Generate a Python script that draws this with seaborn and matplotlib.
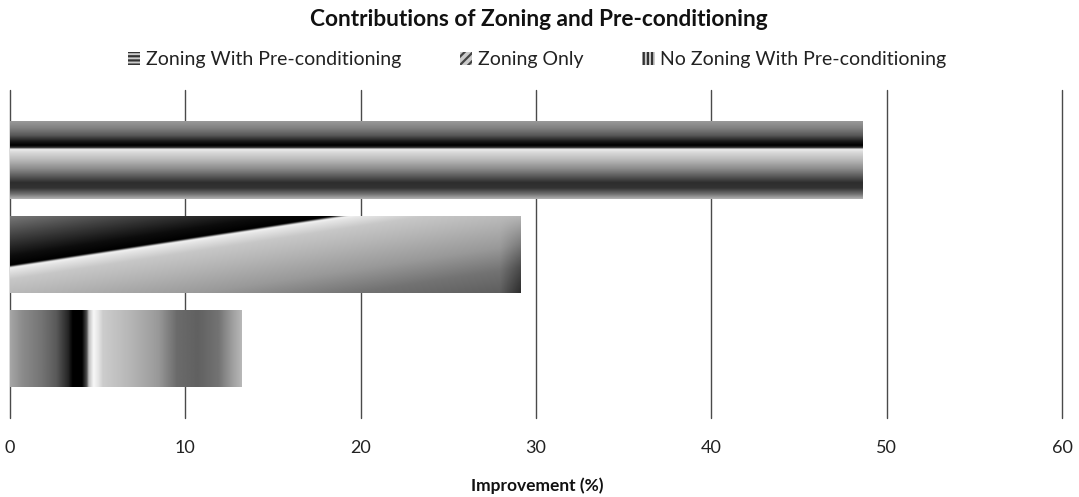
import numpy as np
import pandas as pd
import matplotlib
matplotlib.use("Agg")
import matplotlib.pyplot as plt
import seaborn as sns
from matplotlib.patches import Patch

# Data
series = ["Zoning With Pre-conditioning", "Zoning Only", "No Zoning With Pre-conditioning"]
improvement = [48.6, 29.1, 13.2]
x_ticks = [0, 10, 20, 30, 40, 50, 60]

df = pd.DataFrame({"series": series, "improvement": improvement})

sns.set_theme(style="white")
plt.rcParams["font.family"] = ["Lato", "DejaVu Sans"]
plt.rcParams["hatch.linewidth"] = 1.6

W, H = 1079, 497
fig = plt.figure(figsize=(W / 100, H / 100), dpi=100)
ax = fig.add_axes([10 / W, (H - 418) / H, 1052 / W, 328 / H])

sns.barplot(data=df, y="series", x="improvement", hue="series", order=series,
            hue_order=series, dodge=False, width=0.82, orient="h",
            palette=["#888888"] * 3, legend=False, ax=ax, zorder=2)


# Shading profiles for each bar (grey level, 0 = black, 1 = white)
def band_profile(n):
    pos = [0, .09, .18, .26, .31, .34, .36, .40, .5, .61, .71, .79, .86, .94, 1]
    val = [.6, .5, .35, .1, 0, .2, .93, .85, .72, .55, .35, .18, .2, .45, .7]
    t = np.linspace(0, 1, n)
    return np.tile(np.interp(t, pos, val)[:, None], (1, 200))


def diagonal_profile(n):
    u = np.linspace(0, 1, 400)[None, :]
    v = np.linspace(0, 1, n)[:, None]
    d = v + u - 0.675
    pos = [-0.7, -0.4, -0.15, -0.03, 0.0, 0.03, 0.15, 0.4, 0.7, 1.0, 1.35]
    val = [.5, .25, .05, 0, .95, .9, .78, .7, .6, .45, .35]
    img = np.interp(d, pos, val)
    edge = np.clip((u - 0.96) / 0.04, 0, 1)
    return img * (1 - 0.5 * edge * v)


def column_profile(n):
    pos = [0, .05, .14, .2, .25, .27, .31, .33, .34, .36, .38, .4, .51, .64, .72, .81, .9, .96, 1]
    val = [.65, .55, .45, .35, .15, 0, 0, .3, .75, .97, .9, .8, .72, .6, .42, .38, .45, .62, .72]
    t = np.linspace(0, 1, 400)
    return np.tile(np.interp(t, pos, val)[None, :], (n, 1))


fills = [band_profile(200), diagonal_profile(200), column_profile(200)]

bars = sorted(ax.patches, key=lambda p: p.get_y())
for patch, img in zip(bars, fills):
    x0, y0 = patch.get_x(), patch.get_y()
    x1, y1 = x0 + patch.get_width(), y0 + patch.get_height()
    im = ax.imshow(img, cmap="gray", vmin=0, vmax=1, aspect="auto",
                   extent=(x0, x1, y1, y0), origin="upper", zorder=3,
                   interpolation="bilinear")
    im.set_clip_path(patch)
    patch.set_facecolor("none")
    patch.set_edgecolor("none")

ax.set_xlim(0, 60)
ax.set_ylim(2.737, -0.743)
ax.set_xticks(x_ticks)
ax.set_xticklabels([str(t) for t in x_ticks], fontsize=13, color="#222222")
ax.set_yticks([])
ax.set_ylabel("")
ax.set_xlabel("")
ax.tick_params(axis="x", length=0, pad=16)
ax.grid(axis="x", color="#4a4a4a", linewidth=1.0, zorder=0)
for gl in ax.get_xgridlines():
    gl.set_clip_on(False)
ax.set_axisbelow(True)
for s in ax.spines.values():
    s.set_visible(False)

fig.text(537 / W, 1 - 486 / H, "Improvement (%)", ha="center", va="center",
         fontsize=12.5, fontweight="bold", color="#111111")
fig.text(539 / W, 1 - 19 / H, "Contributions of Zoning and Pre-conditioning",
         ha="center", va="center", fontsize=16.3, fontweight="bold", color="#111111")

handles = [
    Patch(facecolor="#cccccc", edgecolor="#333333", hatch="----", linewidth=0),
    Patch(facecolor="#cccccc", edgecolor="#444444", hatch="////", linewidth=0),
    Patch(facecolor="#cccccc", edgecolor="#333333", hatch="||||", linewidth=0),
]
fig.legend(handles, series, loc="center", bbox_to_anchor=(537 / W, 1 - 60 / H),
           ncol=3, frameon=False, fontsize=14, handlelength=0.65, handleheight=0.6,
           handletextpad=0.3, columnspacing=3.0, labelcolor="#222222")

fig.savefig("out.png", dpi=100)
